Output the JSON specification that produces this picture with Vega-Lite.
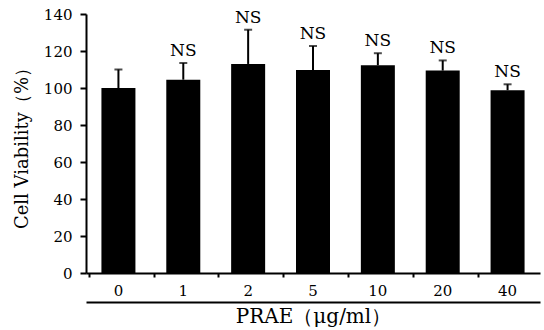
{
  "$schema": "https://vega.github.io/schema/vega-lite/v6.json",
  "width": 454,
  "height": 259,
  "autosize": "none",
  "padding": {"left": 86, "top": 14, "right": 4, "bottom": 57},
  "background": "white",
  "config": {
    "view": {"stroke": null},
    "font": "DejaVu Serif",
    "axis": {"labelFont": "DejaVu Serif", "titleFont": "DejaVu Serif", "labelColor": "black", "titleColor": "black", "domainColor": "black", "tickColor": "black", "grid": false, "titleFontWeight": "normal", "labelOverlap": false},
    "axisY": {"values": [0, 20, 40, 60, 80, 100, 120, 140], "titleFontSize": 18, "labelFontSize": 15, "tickSize": 6, "tickWidth": 2, "domainWidth": 2, "labelPadding": 8, "titlePadding": 12}
  },
  "data": {
    "values": [
      {"dose": "0", "mean": 100, "sd": 10, "sig": ""},
      {"dose": "1", "mean": 104.5, "sd": 9, "sig": "NS"},
      {"dose": "2", "mean": 113, "sd": 18.5, "sig": "NS"},
      {"dose": "5", "mean": 109.7, "sd": 13, "sig": "NS"},
      {"dose": "10", "mean": 112.3, "sd": 6.5, "sig": "NS"},
      {"dose": "20", "mean": 109.4, "sd": 5.5, "sig": "NS"},
      {"dose": "40", "mean": 98.8, "sd": 3.2, "sig": "NS"}
    ]
  },
  "transform": [{"calculate": "datum.mean + datum.sd", "as": "upper"}],
  "resolve": {"axis": {"x": "independent"}},
  "layer": [
    {
      "mark": {"type": "bar", "color": "black", "width": 34},
      "encoding": {
        "x": {"field": "dose", "type": "ordinal", "sort": null,
          "axis": {"orient": "bottom", "title": null, "labelAngle": 0, "labelFontSize": 15, "labelPadding": 6, "tickSize": 4, "tickWidth": 2, "bandPosition": 0, "domainWidth": 2, "labelBaseline": "top"}},
        "y": {"field": "mean", "type": "quantitative", "scale": {"domain": [0, 140]},
          "axis": {"title": "Cell Viability（%）", "values": [0, 20, 40, 60, 80, 100, 120, 140]}}
      }
    },
    {
      "mark": {"type": "rule", "color": "black", "strokeWidth": 2},
      "encoding": {
        "x": {"field": "dose", "type": "ordinal", "sort": null, "axis": null},
        "y": {"field": "mean", "type": "quantitative", "axis": {"title": "Cell Viability（%）", "values": [0, 20, 40, 60, 80, 100, 120, 140]}},
        "y2": {"field": "upper"}
      }
    },
    {
      "mark": {"type": "tick", "color": "black", "thickness": 2, "size": 8},
      "encoding": {
        "x": {"field": "dose", "type": "ordinal", "sort": null, "axis": null},
        "y": {"field": "upper", "type": "quantitative", "axis": {"title": "Cell Viability（%）", "values": [0, 20, 40, 60, 80, 100, 120, 140]}}
      }
    },
    {
      "mark": {"type": "text", "fontSize": 17, "baseline": "bottom", "dy": -3, "color": "black", "font": "DejaVu Serif"},
      "encoding": {
        "x": {"field": "dose", "type": "ordinal", "sort": null,
          "axis": {"orient": "bottom", "offset": 29, "labels": false, "ticks": false, "domain": true, "domainWidth": 2, "title": "PRAE（μg/ml）", "titleFontSize": 20, "titlePadding": 4}},
        "y": {"field": "upper", "type": "quantitative", "axis": {"title": "Cell Viability（%）", "values": [0, 20, 40, 60, 80, 100, 120, 140]}},
        "text": {"field": "sig"}
      }
    }
  ]
}
